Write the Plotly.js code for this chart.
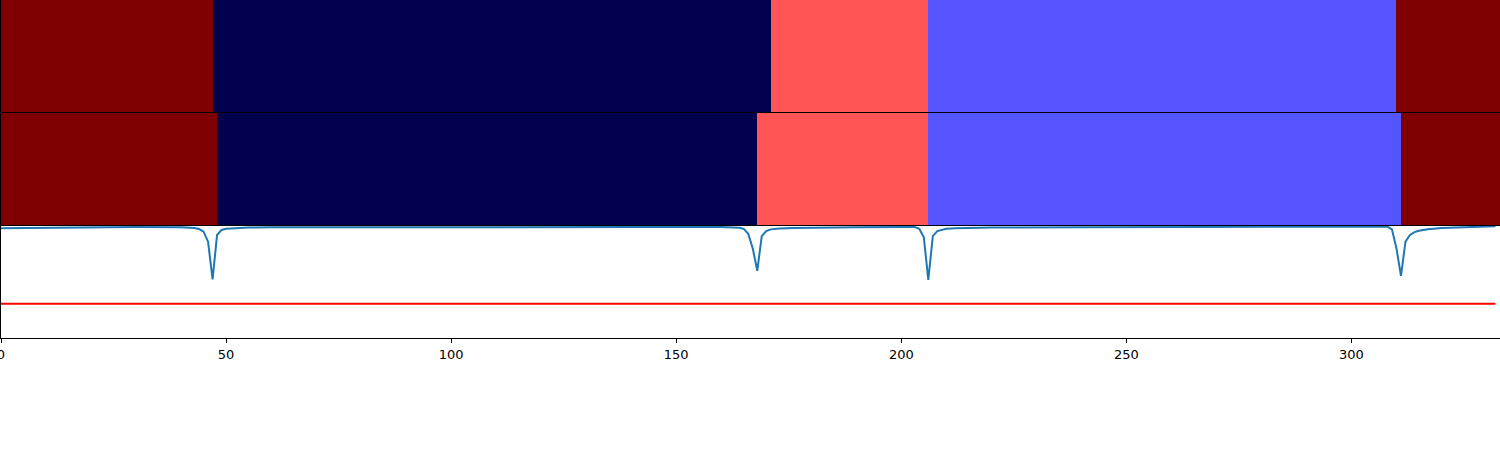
<!DOCTYPE html>
<html>
<head>
<meta charset="utf-8">
<script src="https://cdn.plot.ly/plotly-3.0.1.min.js"></script>
<style>html,body{margin:0;padding:0;background:#fff;}#chart{width:1500px;height:450px;}</style>
</head>
<body>
<div id="chart"></div>
<script>
// Segment boundaries (frame index) and class labels for the two label rows
const classNames = ["c0", "c1", "c2", "c3"];
const classColors = ["#00004c", "#5555ff", "#ff5555", "#7f0000"];
const row1Edges = [0, 47, 171, 206, 310, 333];
const row1Labels = [3, 0, 2, 1, 3];
const row2Edges = [0, 48, 168, 206, 311, 333];
const row2Labels = [3, 0, 2, 1, 3];

// Score curve
const scoreX = [0, 10, 20, 30, 40, 43, 44, 45, 46, 47, 48, 49, 50, 52, 55, 60, 80, 100, 120, 140, 160,
  163, 164, 165, 166, 167, 168, 169, 170, 171, 173, 176, 180, 190, 200, 202, 203, 204, 205, 206, 207,
  208, 209, 210, 212, 215, 220, 240, 260, 280, 300, 305, 307, 308, 309, 310, 311, 312, 313, 314, 315,
  317, 320, 325, 332];
const scoreY = [0.98, 0.985, 0.99, 0.99, 0.988, 0.982, 0.973, 0.95, 0.86, 0.524, 0.92, 0.965, 0.975, 0.982, 0.986, 0.988, 0.99, 0.99, 0.99, 0.99, 0.99,
  0.988, 0.985, 0.975, 0.93, 0.80, 0.60, 0.91, 0.955, 0.97, 0.978, 0.982, 0.985, 0.988, 0.99, 0.99, 0.99, 0.975, 0.90, 0.518, 0.91,
  0.955, 0.968, 0.975, 0.98, 0.983, 0.986, 0.988, 0.99, 0.99, 0.99, 0.992, 0.995, 0.995, 0.97, 0.80, 0.554, 0.86, 0.92, 0.945, 0.958,
  0.972, 0.982, 0.99, 0.998];
const thresholdX = [0, 332];
const thresholdY = [0.305, 0.305];

const xTicks = [0, 50, 100, 150, 200, 250, 300];

const cs = [];
classColors.forEach((c, i) => {
  cs.push([i / classColors.length, c]);
  cs.push([(i + 1) / classColors.length, c]);
});

const traces = [
  {type: "heatmap", x: row1Edges, z: [row1Labels], y: [0], xaxis: "x3", yaxis: "y3",
   colorscale: cs, zmin: -0.5, zmax: 3.5, showscale: false, hoverinfo: "skip"},
  {type: "heatmap", x: row2Edges, z: [row2Labels], y: [0], xaxis: "x2", yaxis: "y2",
   colorscale: cs, zmin: -0.5, zmax: 3.5, showscale: false, hoverinfo: "skip"},
  {type: "scatter", mode: "lines", x: scoreX, y: scoreY, xaxis: "x", yaxis: "y",
   line: {color: "#1f77b4", width: 2}, hoverinfo: "skip"},
  {type: "scatter", mode: "lines", x: thresholdX, y: thresholdY, xaxis: "x", yaxis: "y",
   line: {color: "#ff0000", width: 2}, hoverinfo: "skip"}
];

const H = 338;
const axBase = {showline: true, linecolor: "#000", linewidth: 1, mirror: true, zeroline: false, showgrid: false};
const layout = {
  width: 1500, height: 450,
  margin: {l: 1, r: 0, t: 0, b: 112, pad: 0},
  paper_bgcolor: "#fff", plot_bgcolor: "#fff",
  showlegend: false,
  font: {family: "DejaVu Sans", size: 13, color: "#000"},
  xaxis: Object.assign({}, axBase, {range: [0, 333], anchor: "y", tickmode: "array", tickvals: xTicks,
    ticktext: xTicks.map(String), ticks: "outside", ticklen: 4, tickwidth: 1, tickcolor: "#000",
    ticklabeloverflow: "allow",
    tickfont: {family: "DejaVu Sans", size: 13, color: "#000"}}),
  xaxis2: Object.assign({}, axBase, {range: [0, 333], anchor: "y2", matches: "x", showticklabels: false, ticks: ""}),
  xaxis3: Object.assign({}, axBase, {range: [0, 333], anchor: "y3", matches: "x", side: "top", mirror: false, showticklabels: false, ticks: ""}),
  yaxis: Object.assign({}, axBase, {domain: [0, 112 / H], range: [0, 1], showticklabels: false, ticks: "", anchor: "x"}),
  yaxis2: Object.assign({}, axBase, {domain: [113 / H, 225 / H], range: [-0.5, 0.5], showticklabels: false, ticks: "", anchor: "x2"}),
  yaxis3: Object.assign({}, axBase, {domain: [226 / H, 1], range: [-0.5, 0.5], showticklabels: false, ticks: "", anchor: "x3"})
};

Plotly.newPlot("chart", traces, layout, {staticPlot: true, displayModeBar: false});
</script>
</body>
</html>
